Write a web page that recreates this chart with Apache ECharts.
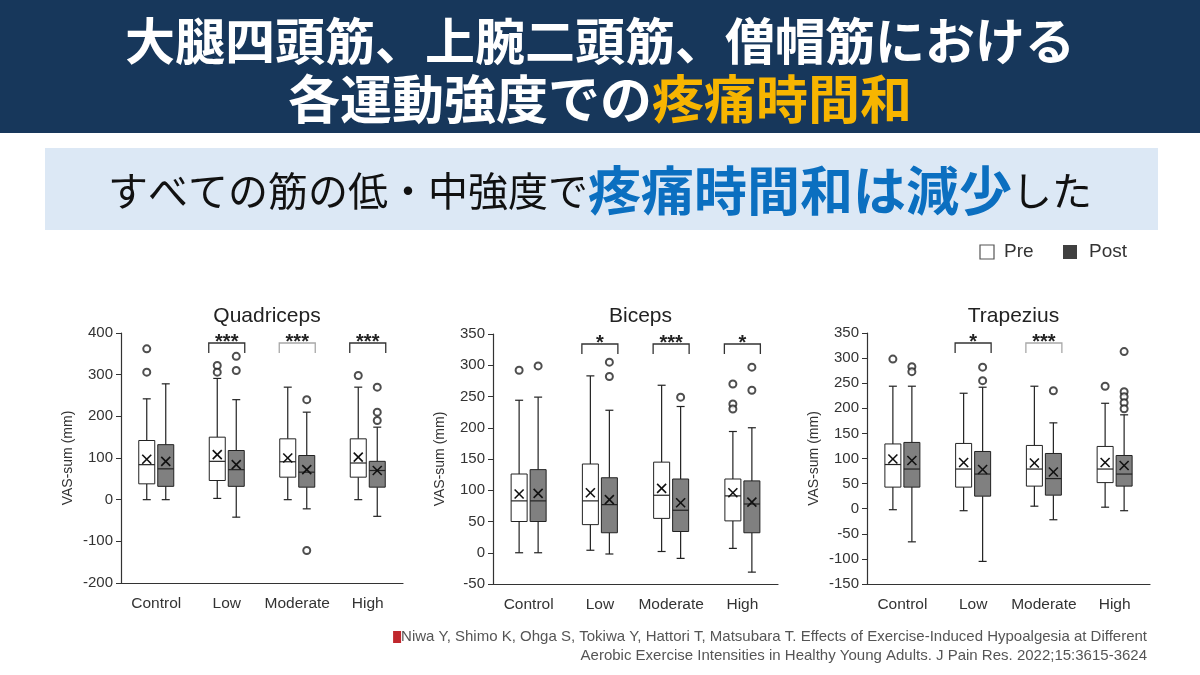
<!DOCTYPE html>
<html>
<head>
<meta charset="utf-8">
<script src="https://cdn.jsdelivr.net/npm/echarts@6/dist/echarts.min.js"></script>
<style>
html, body { margin: 0; padding: 0; background: #fff; }
#chart { width: 1200px; height: 675px; }
</style>
</head>
<body>
<div id="chart"></div>
<script>
const categories = ['Control', 'Low', 'Moderate', 'High'];
const muscles = ['Quadriceps', 'Biceps', 'Trapezius'];

// each row: [min, Q1, median, Q3, max, mean]
const quadPre  = [[0, 38, 84, 142, 242, 97], [3, 46, 92, 150, 291, 108], [0, 54, 91, 146, 270, 100], [0, 54, 88, 146, 270, 102]];
const quadPost = [[0, 32, 74, 132, 278, 92], [-42, 32, 72, 118, 240, 84], [-22, 30, 66, 106, 210, 72], [-40, 30, 70, 92, 174, 70]];
const bicPre   = [[0, 50, 83, 126, 244, 94], [4, 45, 83, 142, 283, 96], [2, 55, 92, 145, 268, 103], [7, 51, 91, 118, 194, 96]];
const bicPost  = [[0, 50, 83, 133, 249, 95], [-2, 32, 77, 120, 228, 85], [-9, 34, 68, 118, 234, 80], [-31, 32, 78, 115, 200, 81]];
const trapPre  = [[-2, 43, 88, 129, 244, 99], [-4, 43, 79, 130, 230, 92], [5, 45, 79, 126, 244, 91], [3, 52, 79, 124, 210, 92]];
const trapPost = [[-66, 43, 79, 132, 244, 96], [-105, 25, 69, 114, 242, 78], [-22, 27, 60, 110, 171, 73], [-4, 45, 69, 106, 187, 86]];

// outliers: [category index, value]
const quadPreOut  = [[0, 362], [0, 306], [1, 322], [1, 306], [3, 298]];
const quadPostOut = [[1, 344], [1, 310], [2, 240], [2, -122], [3, 270], [3, 210], [3, 190]];
const bicPreOut   = [[0, 292], [3, 270], [3, 238], [3, 230]];
const bicPostOut  = [[0, 299], [1, 305], [1, 282], [2, 249], [3, 297], [3, 260]];
const trapPreOut  = [[0, 298], [3, 244]];
const trapPostOut = [[0, 283], [0, 273], [1, 282], [1, 255], [2, 235], [3, 313], [3, 233], [3, 223], [3, 211], [3, 199]];

// significance marks per category
const quadSig = ['', '***', '***', '***'];
const bicSig  = ['', '*', '***', '*'];
const trapSig = ['', '*', '***', ''];

// y axis ranges: [min, max, interval]
const quadY = [-200, 400, 100];
const bicY  = [-50, 350, 50];
const trapY = [-150, 350, 50];

const preData  = [quadPre, bicPre, trapPre];
const postData = [quadPost, bicPost, trapPost];
const preOut   = [quadPreOut, bicPreOut, trapPreOut];
const postOut  = [quadPostOut, bicPostOut, trapPostOut];
const sigs     = [quadSig, bicSig, trapSig];
const yRanges  = [quadY, bicY, trapY];

const jp = '"Noto Sans CJK JP", sans-serif';
const latin = '"Liberation Sans", Arial, sans-serif';

const grids = [
    {left: 121, top: 333, width: 282, height: 250},
    {left: 493, top: 334, width: 285, height: 250},
    {left: 867, top: 333, width: 283, height: 251}
];
const gridCenters = grids.map(g => g.left + g.width / 2);

// 箱ひげ図を描く
function boxRenderer(offset, fill) {
    return function (params, api) {
        const cat = api.value(0);
        const x = api.coord([cat, 0])[0] + offset;
        const y = v => api.coord([cat, v])[1];
        const yMin = y(api.value(1)), yQ1 = y(api.value(2)), yMed = y(api.value(3));
        const yQ3 = y(api.value(4)), yMax = y(api.value(5)), yMean = y(api.value(6));
        const hw = 8, cap = 4, m = 4.5;
        const line = {stroke: '#222', lineWidth: 1.2};
        return {
            type: 'group',
            children: [
                {type: 'line', shape: {x1: x, y1: yMax, x2: x, y2: yQ3}, style: line},
                {type: 'line', shape: {x1: x, y1: yQ1, x2: x, y2: yMin}, style: line},
                {type: 'line', shape: {x1: x - cap, y1: yMax, x2: x + cap, y2: yMax}, style: line},
                {type: 'line', shape: {x1: x - cap, y1: yMin, x2: x + cap, y2: yMin}, style: line},
                {type: 'rect', shape: {x: x - hw, y: yQ3, width: hw * 2, height: yQ1 - yQ3},
                    style: {fill: fill, stroke: '#222', lineWidth: 1}},
                {type: 'line', shape: {x1: x - hw, y1: yMed, x2: x + hw, y2: yMed}, style: line},
                {type: 'line', shape: {x1: x - m, y1: yMean - m, x2: x + m, y2: yMean + m},
                    style: {stroke: '#111', lineWidth: 1.6}},
                {type: 'line', shape: {x1: x - m, y1: yMean + m, x2: x + m, y2: yMean - m},
                    style: {stroke: '#111', lineWidth: 1.6}}
            ]
        };
    };
}

// 有意差の括弧
function sigRenderer(mi) {
    return function (params, api) {
        const cat = api.value(0);
        const x = api.coord([cat, 0])[0];
        const top = params.coordSys.y + 10;
        const faint = mi !== 1 && cat === 2;
        const color = faint ? '#a8a8a8' : '#333';
        return {
            type: 'group',
            children: [
                {type: 'polyline', shape: {points: [[x - 18, top + 10], [x - 18, top], [x + 18, top], [x + 18, top + 10]]},
                    style: {stroke: color, lineWidth: 1.3, fill: null}},
                {type: 'text', x: x, y: top + 9,
                    style: {text: sigs[mi][cat], align: 'center', verticalAlign: 'bottom',
                        fontSize: 20, fontWeight: 'bold', fill: '#222', fontFamily: latin}}
            ]
        };
    };
}

const xAxes = [], yAxes = [], series = [], titles = [];

titles.push({
    text: '{a|大腿四頭筋、上腕二頭筋、僧帽筋における}\n{w|各運動強度での}{y|疼痛時間和}',
    left: 'center', top: 7,
    textStyle: {
        rich: {
            a: {color: '#fff', fontSize: 50, fontWeight: 'bold', fontFamily: jp, lineHeight: 58},
            w: {color: '#fff', fontSize: 52, fontWeight: 'bold', fontFamily: jp, lineHeight: 58},
            y: {color: '#f7b500', fontSize: 52, fontWeight: 'bold', fontFamily: jp, lineHeight: 58}
        }
    }
});
titles.push({
    text: '{k|すべての筋の低・中強度で}{b|疼痛時間和は減少}{k|した}',
    left: 'center', top: 156,
    textStyle: {
        fontWeight: 'normal',
        rich: {
            k: {color: '#111', fontSize: 40, fontWeight: 'normal', fontFamily: jp, lineHeight: 60},
            b: {color: '#0b6fc0', fontSize: 53, fontWeight: 'bold', fontFamily: jp, lineHeight: 60}
        }
    }
});

muscles.forEach((name, i) => {
    titles.push({
        text: name, left: gridCenters[i], top: 301, textAlign: 'center',
        textStyle: {fontSize: 21, fontWeight: 'normal', color: '#222', fontFamily: latin}
    });
    xAxes.push({
        type: 'category', gridIndex: i, data: categories,
        axisLine: {onZero: false, lineStyle: {color: '#333', width: 1.2}},
        axisTick: {length: 5, lineStyle: {color: '#333'}},
        axisLabel: {interval: 0, fontSize: 15.5, color: '#333', margin: 13, fontFamily: latin}
    });
    const r = yRanges[i];
    yAxes.push({
        type: 'value', gridIndex: i, min: r[0], max: r[1], interval: r[2],
        name: 'VAS-sum (mm)', nameLocation: 'middle', nameGap: 46,
        nameTextStyle: {fontSize: 14, color: '#333', fontFamily: latin},
        axisLine: {show: true, lineStyle: {color: '#333', width: 1.2}},
        axisTick: {show: true, length: 5, lineStyle: {color: '#333'}},
        axisLabel: {fontSize: 15, color: '#333', margin: 8, fontFamily: latin},
        splitLine: {show: false}
    });
    series.push({
        type: 'custom', name: 'Pre', xAxisIndex: i, yAxisIndex: i,
        renderItem: boxRenderer(-9.5, '#fff'),
        encode: {x: 0, y: [1, 2, 3, 4, 5, 6]},
        data: preData[i].map((d, c) => [c, ...d]),
        z: 2
    });
    series.push({
        type: 'custom', name: 'Post', xAxisIndex: i, yAxisIndex: i,
        renderItem: boxRenderer(9.5, '#808080'),
        encode: {x: 0, y: [1, 2, 3, 4, 5, 6]},
        data: postData[i].map((d, c) => [c, ...d]),
        z: 2
    });
    [[preOut[i], -9.5], [postOut[i], 9.5]].forEach(([pts, off]) => {
        series.push({
            type: 'scatter', xAxisIndex: i, yAxisIndex: i,
            data: pts, symbol: 'circle', symbolSize: 7, symbolOffset: [off, 0],
            itemStyle: {color: '#fff', borderColor: '#222', borderWidth: 2},
            silent: true, z: 3
        });
    });
    series.push({
        type: 'custom', xAxisIndex: i, yAxisIndex: i,
        renderItem: sigRenderer(i),
        encode: {x: 0, y: 1},
        data: sigs[i].map((s, c) => [c, r[0], s]).filter(d => d[2] !== '').map(d => [d[0], d[1]]),
        z: 4
    });
});

const chart = echarts.init(document.getElementById('chart'));
chart.setOption({
    backgroundColor: '#fff',
    animation: false,
    title: titles,
    grid: grids,
    xAxis: xAxes,
    yAxis: yAxes,
    series: series,
    graphic: [
        {type: 'rect', shape: {x: 0, y: 0, width: 1200, height: 133}, style: {fill: '#17375b'}, z: -10},
        {type: 'rect', shape: {x: 45, y: 148, width: 1113, height: 82}, style: {fill: '#dce8f5'}, z: -10},
        {type: 'rect', shape: {x: 980, y: 245, width: 14, height: 14}, style: {fill: '#fff', stroke: '#555', lineWidth: 1.2}},
        {type: 'text', x: 1004, y: 252, style: {text: 'Pre', fontSize: 19, fill: '#333', fontFamily: latin, verticalAlign: 'middle'}},
        {type: 'rect', shape: {x: 1063, y: 245, width: 14, height: 14}, style: {fill: '#404040'}},
        {type: 'text', x: 1089, y: 252, style: {text: 'Post', fontSize: 19, fill: '#333', fontFamily: latin, verticalAlign: 'middle'}},
        {type: 'text', x: 1147, y: 637, style: {
            text: '{i|}Niwa Y, Shimo K, Ohga S, Tokiwa Y, Hattori T, Matsubara T. Effects of Exercise-Induced Hypoalgesia at Different',
            align: 'right', verticalAlign: 'middle', fontSize: 15, fill: '#555', fontFamily: latin,
            rich: {i: {width: 8, height: 12, backgroundColor: '#c0272d'}}
        }},
        {type: 'text', x: 1147, y: 656, style: {
            text: 'Aerobic Exercise Intensities in Healthy Young Adults. J Pain Res. 2022;15:3615-3624',
            align: 'right', verticalAlign: 'middle', fontSize: 15, fill: '#555', fontFamily: latin
        }}
    ]
});
</script>
</body>
</html>
